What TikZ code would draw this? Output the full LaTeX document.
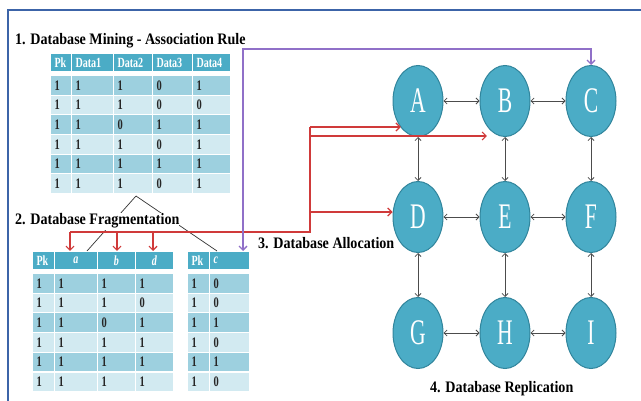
\documentclass[tikz,border=0pt]{standalone}
\usepackage{fontspec}
\setmainfont{Liberation Serif}
\newfontfamily\titlefont[FakeStretch=0.88]{Liberation Serif}
\newfontfamily\cellfont[FakeStretch=0.72]{Liberation Serif}
\newfontfamily\letterfont[FakeStretch=0.6]{Liberation Serif}
\usetikzlibrary{calc}
\usetikzlibrary{arrows.meta, shapes.geometric}
\definecolor{frameblue}{HTML}{3C64A8}
\definecolor{headteal}{HTML}{4BACC6}
\definecolor{bandA}{HTML}{9DD0DF}
\definecolor{bandB}{HTML}{D2EAF1}
\definecolor{nodeedge}{HTML}{31859C}
\definecolor{allocred}{HTML}{D03A3A}
\definecolor{replviolet}{HTML}{9070C8}

\begin{document}
\begin{tikzpicture}[x=1pt, y=-1pt,
  heading/.style={anchor=base west, inner xsep=0pt, font=\titlefont\bfseries\fontsize{16}{18}\selectfont},
  hdr/.style={anchor=north west, fill=headteal, draw=white, line width=1pt, inner xsep=4pt, inner ysep=0pt,
    minimum height=18pt, align=left, text=white, font=\cellfont\bfseries\fontsize{14}{15}\selectfont},
  cell/.style={anchor=north west, draw=white, line width=1pt, inner xsep=4pt, inner ysep=0pt,
    minimum height=19.7pt, align=left, text=black!85, font=\cellfont\bfseries\fontsize{14.5}{15}\selectfont},
  site/.style={ellipse, fill=headteal, draw=nodeedge, line width=1pt, minimum width=50pt, minimum height=71pt,
    inner sep=0pt, text=white, font=\letterfont\fontsize{36}{36}\selectfont},
  link/.style={gray!60!black, line width=0.8pt, {Straight Barb[length=3pt,width=6pt]}-{Straight Barb[length=3pt,width=6pt]}},
  fraglink/.style={gray!40!black, line width=0.7pt},
  alloc/.style={allocred, line width=1.2pt},
  alloc arrow/.style={alloc, -{Straight Barb[length=4pt,width=8pt]}},
  repl arrow/.style={replviolet, line width=1.3pt, {Straight Barb[length=4pt,width=8pt]}-{Straight Barb[length=4pt,width=8pt]}}
]

  % Page and frame
  \fill[white] (0,0) rectangle (641,401);
  \useasboundingbox (0,0) rectangle (641,401);
  \draw[frameblue, line width=2pt] (641,10) -- (8,10) -- (8,401);

  % Mining table
  \foreach \c/\x/\w/\lbl in {1/50/13/Pk, 2/71/34/Data1, 3/113/31/Data2, 4/152/32/Data3, 5/192/30/Data4}
    \node[hdr, text width=\w pt] (mh-\c) at (\x,53) {\lbl};
  \foreach \r/\vals in {1/{1,1,1,0,1}, 2/{1,1,1,0,0}, 3/{1,1,0,1,1}, 4/{1,1,1,0,1}, 5/{1,1,1,1,1}, 6/{1,1,1,0,1}} {
    \ifodd\r\relax \def\band{bandA}\else \def\band{bandB}\fi
    \foreach \v [count=\c] in \vals {
      \pgfmathsetmacro\x{{50,71,113,152,192}[\c-1]}
      \pgfmathsetmacro\w{{13,34,31,32,30}[\c-1]}
      \node[cell, fill=\band, text width=\w pt] (m-\r-\c) at (\x,{75+(\r-1)*19.7}) {\v};
    }
  }

  % Fragment tables
  \foreach \c/\x/\w/\lbl/\al in {1/32/14/Pk/left, 2/54/35/{\itshape a}/center, 3/97/30/{\itshape b}/center, 4/135/30/{\itshape d}/center}
    \node[hdr, text width=\w pt, align=\al] (fh-\c) at (\x,251) {\lbl};
  \foreach \r/\vals in {1/{1,1,1,1}, 2/{1,1,1,0}, 3/{1,1,0,1}, 4/{1,1,1,1}, 5/{1,1,1,1}, 6/{1,1,1,1}} {
    \ifodd\r\relax \def\band{bandA}\else \def\band{bandB}\fi
    \foreach \v [count=\c] in \vals {
      \pgfmathsetmacro\x{{32,54,97,135}[\c-1]}
      \pgfmathsetmacro\w{{14,35,30,30}[\c-1]}
      \node[cell, fill=\band, text width=\w pt] (f-\r-\c) at (\x,{273+(\r-1)*19.7}) {\v};
    }
  }
  \foreach \c/\x/\w/\lbl in {1/187/14/Pk, 2/209/32/{\itshape c}}
    \node[hdr, text width=\w pt] (ch-\c) at (\x,251) {\lbl};
  \foreach \r/\vals in {1/{1,0}, 2/{1,0}, 3/{1,1}, 4/{1,0}, 5/{1,1}, 6/{1,0}} {
    \ifodd\r\relax \def\band{bandA}\else \def\band{bandB}\fi
    \foreach \v [count=\c] in \vals {
      \pgfmathsetmacro\x{{187,209}[\c-1]}
      \pgfmathsetmacro\w{{14,32}[\c-1]}
      \node[cell, fill=\band, text width=\w pt] (c-\r-\c) at (\x,{273+(\r-1)*19.7}) {\v};
    }
  }

  % Sites
  \node[site] (A) at (418,101) {A};
  \node[site] (B) at (505,101) {B};
  \node[site] (C) at (591,101) {C};
  \node[site] (D) at (418,217) {D};
  \node[site] (E) at (505,217) {E};
  \node[site] (F) at (591,217) {F};
  \node[site] (G) at (418,333) {G};
  \node[site] (H) at (505,333) {H};
  \node[site] (I) at (591,333) {I};

  % Replication links
  \foreach \p/\q in {A/B, B/C, D/E, E/F, G/H, H/I, A/D, B/E, C/F, D/G, E/H, F/I}
    \draw[link] (\p) -- (\q);

  % Fragmentation split
  \coordinate (split) at (136,196);
  \draw[fraglink] (split) -- ($(fh-2.north)!0.5!(fh-2.north east)$);
  \draw[fraglink] (split) -- ([xshift=8pt]ch-2.north west);

  % Allocation
  \coordinate (jA) at (310,127);
  \coordinate (jB) at (310,136);
  \coordinate (jD) at (310,212);
  \coordinate (jF) at (310,232);
  \coordinate (ja) at (70,232);
  \coordinate (jb) at (117,232);
  \coordinate (jd) at (153,232);
  \draw[alloc] (jA) -- (jF) -- (ja);
  \draw[alloc arrow] (jA) -- (A.237 |- jA);
  \draw[alloc arrow] (jB) -- (jB -| B.south west);
  \draw[alloc arrow] (jD) -- (jD -| D.west);
  \foreach \j/\c in {ja/2, jb/3, jd/4}
    \draw[alloc arrow] (\j) -- (\j |- fh-\c.north);

  % Replication of c
  \coordinate (pL) at (243,49);
  \coordinate (pR) at (591,49);
  \draw[repl arrow] (pL |- ch-2.north) -- (pL) -- (pR) -- (C);

  % Labels
  \node[heading] (t1) at (15,45) {1. Database Mining - Association Rule};
  \node[heading, fill=white, inner ysep=1pt] (t2) at (15,225) {2. Database Fragmentation};
  \node[heading] (t3) at (258,249) {3. Database Allocation};
  \node[heading] (t4) at (430,392) {4. Database Replication};

\end{tikzpicture}
\end{document}
